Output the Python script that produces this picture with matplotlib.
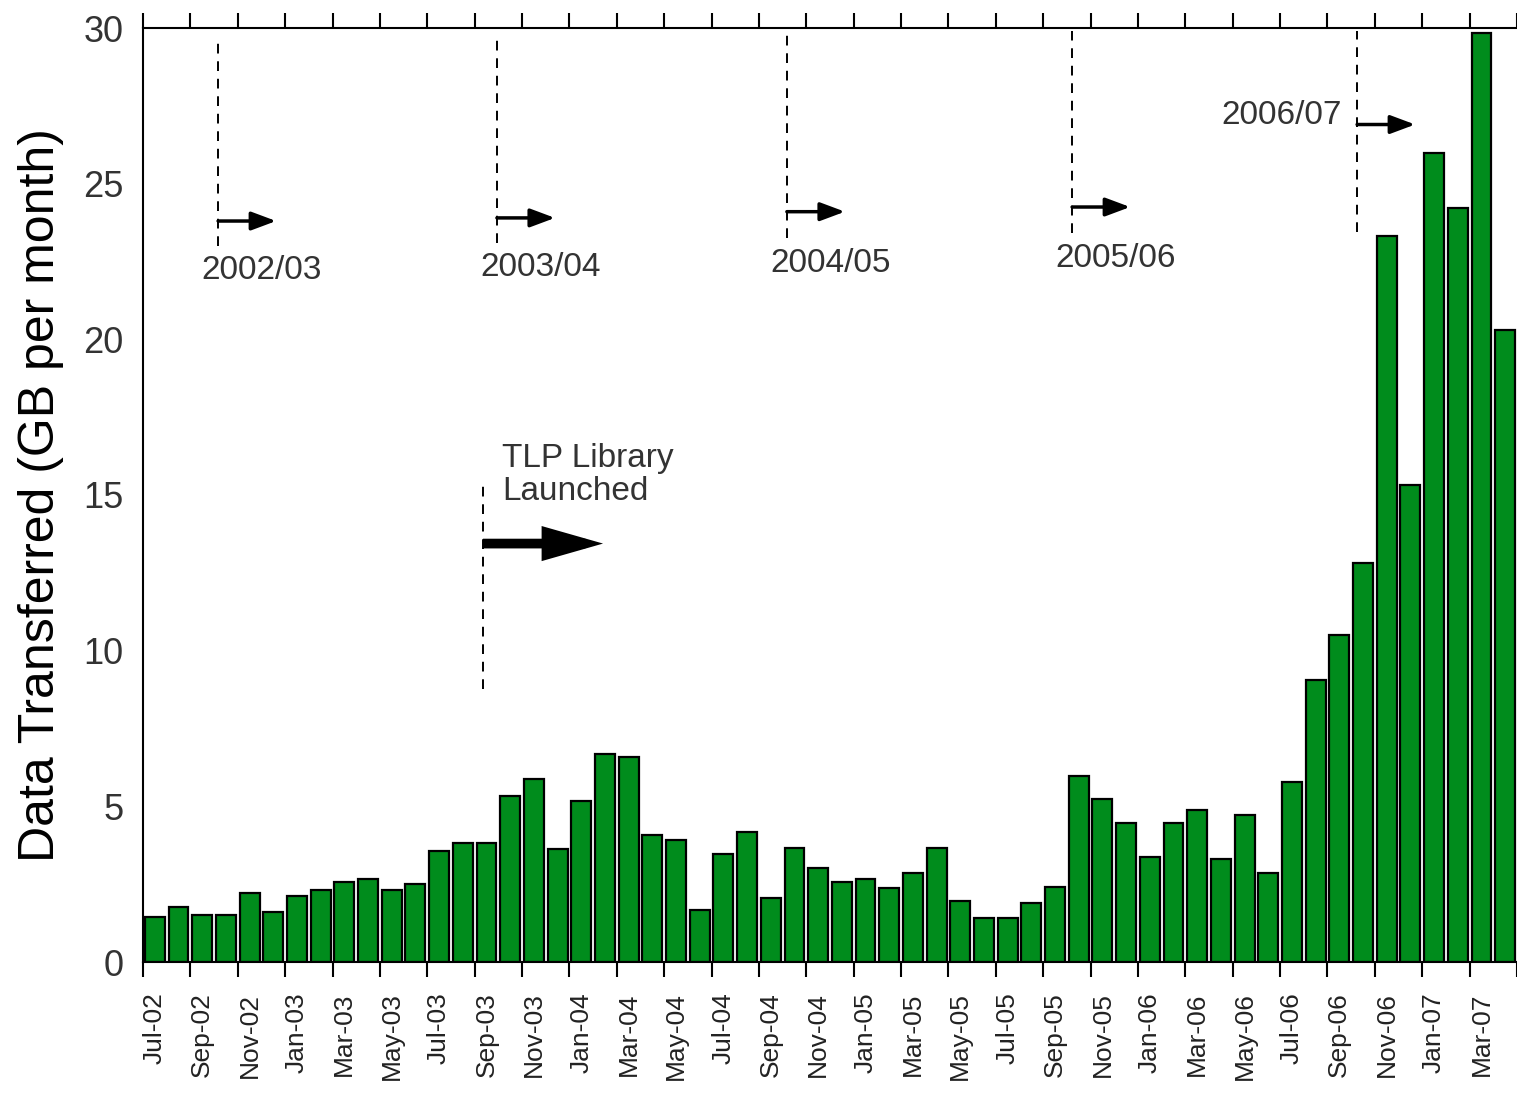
import numpy as np
import pandas as pd
import matplotlib
matplotlib.use("Agg")
import matplotlib.pyplot as plt

plt.rcParams['font.family'] = ['Liberation Sans', 'DejaVu Sans']

# monthly data transferred, Jul-02 .. Apr-07 (GB per month)
months = pd.date_range('2002-07-01', periods=58, freq='MS').strftime('%b-%y').tolist()
gb_per_month = [1.45, 1.77, 1.50, 1.50, 2.21, 1.60, 2.12, 2.30, 2.57, 2.65, 2.30, 2.49,
                3.55, 3.82, 3.82, 5.34, 5.87, 3.64, 5.17, 6.68, 6.58, 4.09, 3.91, 1.68,
                3.47, 4.18, 2.04, 3.66, 3.03, 2.58, 2.66, 2.39, 2.85, 3.66, 1.96, 1.41,
                1.41, 1.88, 2.40, 5.97, 5.25, 4.45, 3.38, 4.45, 4.89, 3.30, 4.72, 2.85,
                5.79, 9.07, 10.51, 12.82, 23.31, 15.31, 25.98, 24.21, 29.83, 20.30]

# financial year markers (x in month index units)
year_names = ['2002/03', '2003/04', '2004/05', '2005/06', '2006/07']
year_x = [2.67, 14.44, 26.68, 38.72, 50.75]
year_line_top = [29.6, 29.6, 29.9, 29.9, 29.9]
year_line_bottom = [23.0, 23.1, 23.25, 23.4, 23.45]
year_arrow_y = [23.8, 23.9, 24.1, 24.25, 26.9]
year_arrow_len = 2.45

tlp_x = 13.85
tlp_line = (8.78, 15.47)
tlp_arrow_y = 13.44
tlp_arrow_end = 18.92

fig = plt.figure(figsize=(15.17, 10.94), dpi=100)
ax = fig.add_axes([143 / 1517, 1 - 962 / 1094, 1 - 143 / 1517, (962 - 28) / 1094])

x = np.arange(len(gb_per_month))
ax.bar(x, gb_per_month, width=0.84, color='#008c1c', edgecolor='black', linewidth=1.6)

ax.set_xlim(-0.5, len(gb_per_month) - 0.5)
ax.set_ylim(0, 30)

# ticks at bar boundaries every two months, labels centred on bars
ax.set_xticks(np.arange(-0.5, len(gb_per_month), 2))
ax.set_xticklabels([])
ax.set_xticks(x[::2], minor=True)
ax.set_xticklabels(months[::2], minor=True, rotation=90, fontsize=19, color='#222222')
ax.tick_params(axis='x', which='major', direction='out', length=11, width=1.5, top=True)
ax.tick_params(axis='x', which='minor', length=0, pad=22)
ax.set_yticks(range(0, 31, 5))
ax.tick_params(axis='y', length=0, labelsize=26, labelcolor='#333333', pad=14)

for s in ['left', 'top', 'bottom']:
    ax.spines[s].set_linewidth(1.5)
ax.spines['right'].set_visible(False)

ax.set_ylabel('Data Transferred (GB per month)', fontsize=36, labelpad=14)

dash = (0, (5, 4))
for name, xv, top, bot, ay in zip(year_names, year_x, year_line_top, year_line_bottom, year_arrow_y):
    ax.plot([xv, xv], [bot, top], color='black', lw=1.4, linestyle=dash)
    ax.annotate('', xy=(xv + year_arrow_len, ay), xytext=(xv, ay),
                arrowprops=dict(arrowstyle='-|>,head_length=0.75,head_width=0.28',
                                lw=2.5, color='black', shrinkA=0, shrinkB=0,
                                mutation_scale=20))
    if name == '2006/07':
        ax.text(xv - 0.65, ay + 0.3, name, ha='right', va='center', fontsize=24, color='#333333')
    else:
        ax.text(xv + 1.85, bot - 0.8, name, ha='center', va='center', fontsize=24, color='#333333')

# TLP Library launch
ax.plot([tlp_x, tlp_x], tlp_line, color='black', lw=1.4, linestyle=dash)
ax.annotate('', xy=(tlp_arrow_end, tlp_arrow_y), xytext=(tlp_x, tlp_arrow_y),
            arrowprops=dict(arrowstyle='-|>,head_length=0.7,head_width=0.2',
                            lw=7, color='black', shrinkA=0, shrinkB=0,
                            capstyle='butt', joinstyle='miter',
                            mutation_scale=40))
ax.text(tlp_x + 0.8, 15.65, 'TLP Library\nLaunched', ha='left', va='center',
        fontsize=24, color='#333333', linespacing=1.1)

fig.savefig('out.png', dpi=100)
